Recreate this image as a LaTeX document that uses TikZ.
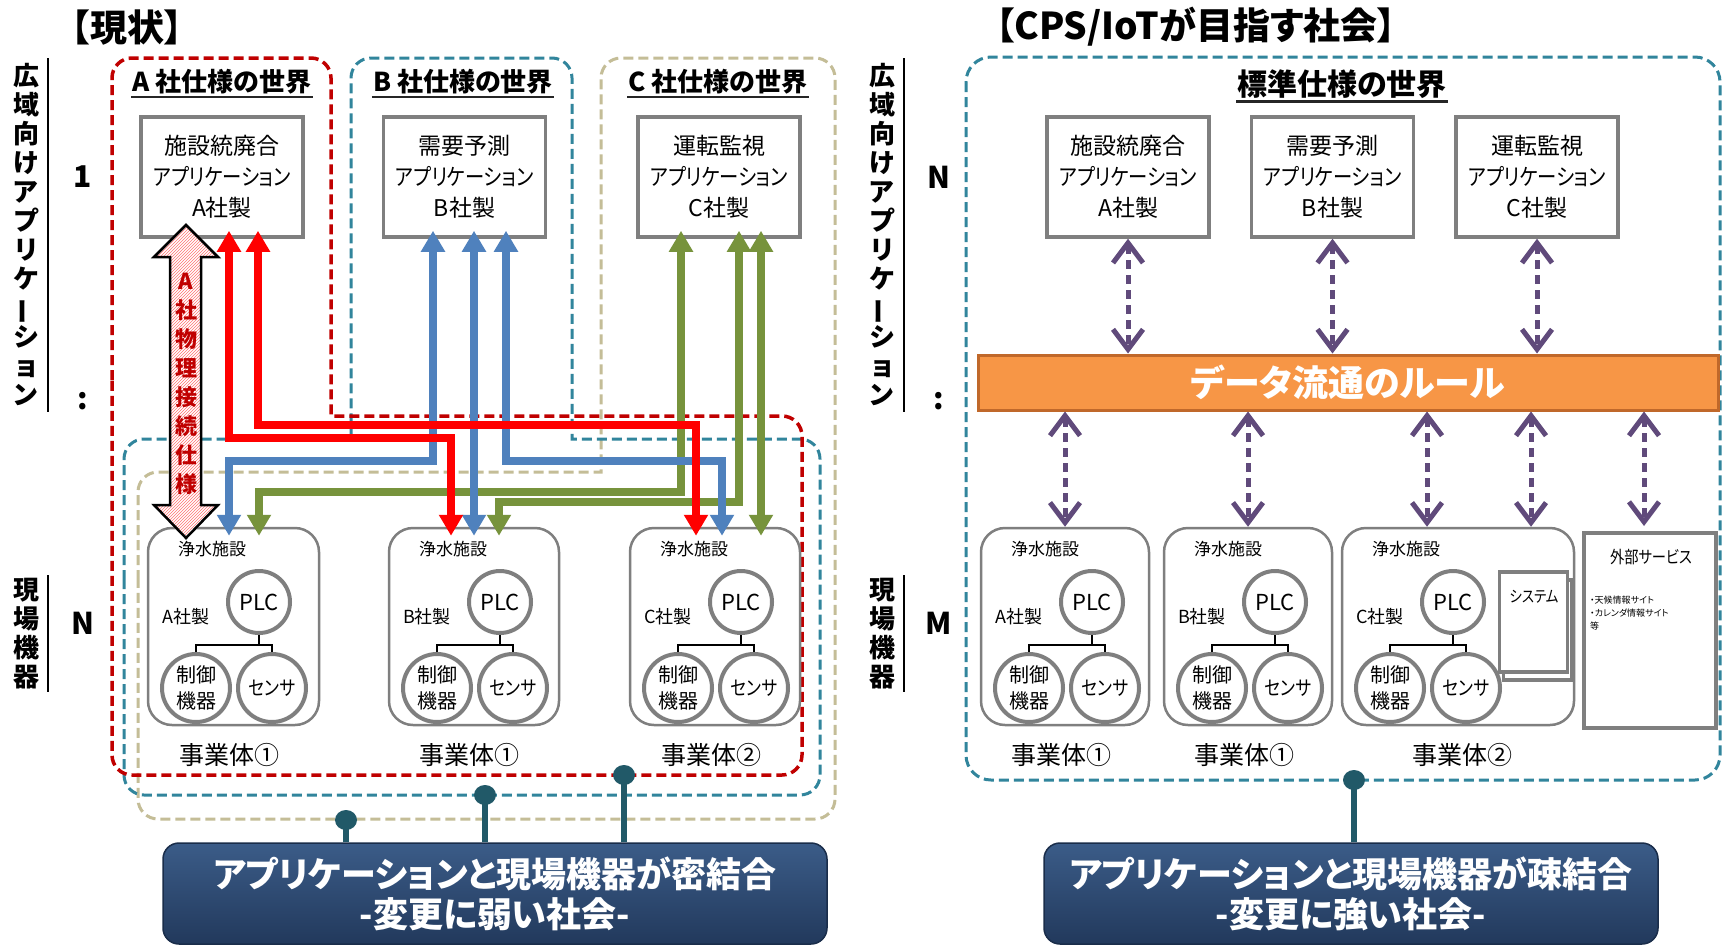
\documentclass[tikz,border=0pt]{standalone}
\usepackage{fontspec}
\setmainfont{Noto Sans CJK JP}[RawFeature=+palt]
\usepackage{graphicx}
\usetikzlibrary{arrows.meta,patterns,calc}
\definecolor{dred}{HTML}{C00000}
\definecolor{dteal}{HTML}{31859C}
\definecolor{dtan}{HTML}{C4BD97}
\definecolor{ared}{HTML}{FF0000}
\definecolor{ablue}{HTML}{4F81BD}
\definecolor{agreen}{HTML}{77933C}
\definecolor{gline}{HTML}{7F7F7F}
\definecolor{purp}{HTML}{604A7B}
\definecolor{orf}{HTML}{F79646}
\definecolor{orb}{HTML}{C0682A}
\definecolor{pinc}{HTML}{215968}
\definecolor{navyt}{HTML}{3B5C88}
\definecolor{navyb}{HTML}{22395C}
\definecolor{navyd}{HTML}{1A2D4A}
\newcommand{\vbar}{\rotatebox[origin=c]{90}{ー}}
\newcommand{\kata}[1]{\scalebox{0.84}[1]{#1}}
\tikzset{
  appbox/.style={draw=gline, line width=3.5pt, fill=white, minimum width=162pt, minimum height=120pt, align=center, inner sep=0pt, font=\fontsize{23}{31}\selectfont},
  facbox/.style={draw=gline, line width=2.5pt, rounded corners=24pt, fill=white, minimum height=197pt, inner sep=0pt},
  circ/.style={circle, draw=gline, line width=4pt, fill=white, inner sep=0pt, align=center},
  ftext/.style={inner sep=0pt, font=\fontsize{17}{20}\selectfont},
  jtext/.style={inner sep=0pt, font=\fontsize{25}{28}\selectfont},
  treeline/.style={line width=2pt, black},
  wtitle/.style={font=\bfseries\fontsize{26}{30}\selectfont, inner sep=1pt},
  stitle/.style={font=\bfseries\fontsize{30}{34}\selectfont, inner sep=1pt},
  ptitle/.style={font=\bfseries\fontsize{37}{40}\selectfont, inner sep=0pt},
  uline/.style={line width=2.5pt, black!85},
  vlabel/.style={align=center, font=\bfseries\fontsize{26}{29}\selectfont, inner sep=0pt},
  axisline/.style={line width=1.5pt, black},
  bignum/.style={font=\bfseries\fontsize{30}{30}\selectfont, inner sep=0pt},
  reddash/.style={draw=dred, line width=3.5pt, dash pattern=on 10pt off 5pt},
  tealdash/.style={draw=dteal, line width=3pt, dash pattern=on 10pt off 5pt},
  tandash/.style={draw=dtan, line width=3pt, dash pattern=on 10pt off 5pt},
  conn/.style={line width=8pt, {Triangle[length=21pt,width=23pt]}-{Triangle[length=21pt,width=23pt]}, shorten <=-8pt, shorten >=-9pt},
  redarr/.style={conn, draw=ared},
  bluearr/.style={conn, draw=ablue},
  greenarr/.style={conn, draw=agreen},
  purarr/.style={draw=purp, line width=5pt, dash pattern=on 9pt off 6pt, {Straight Barb[length=20pt,width=30pt]}-{Straight Barb[length=20pt,width=30pt]}},
  pin/.style={draw=pinc, line width=6pt},
  bbox/.style={rounded corners=16pt, draw=navyd, line width=1.5pt, top color=navyt, bottom color=navyb, text=white, align=center, font=\bfseries\fontsize{35}{40}\selectfont, inner sep=0pt},
  sysbox/.style={draw=gline, line width=3.5pt, fill=white, minimum width=68pt, minimum height=100pt, inner sep=0pt},
}
\newcommand{\facil}[4]{%
  \node[facbox, minimum width=#3pt] (#1) at ({#2+#3/2},626.5) {};
  \node[ftext] at ({#2+64},549) {浄水施設};
  \node[circ, minimum size=62pt, font=\fontsize{22}{24}\selectfont] (#1plc) at ({#2+111},602) {PLC};
  \node[ftext, font=\fontsize{18}{20}\selectfont] at ({#2+38},617) {#4社製};
  \node[circ, minimum size=68pt, font=\fontsize{20}{26}\selectfont] (#1ctl) at ({#2+48},688) {制御\\機器};
  \node[circ, minimum size=68pt, font=\fontsize{20}{24}\selectfont] (#1sen) at ({#2+124},688) {\kata{センサ}};
  \draw[treeline] (#1plc.south) -- ++(0,10) coordinate (#1t);
  \draw[treeline] (#1ctl.north) |- (#1t) -| (#1sen.north);
}
\begin{document}
\begin{tikzpicture}[x=1pt,y=-1pt]
\useasboundingbox (0,0) rectangle (1723,945);
\fill[white] (0,0) rectangle (1723,945);

% ================= LEFT =================
\node[ptitle] (tl) at (127,28) {【現状】};
\node[vlabel] (vl1) at (26,235) {広\\域\\向\\け\\ア\\プ\\リ\\ケ\\\vbar\\シ\\ョ\\ン};
\draw[axisline] (48,58) -- (48,412);
\node[vlabel] (vl2) at (26,634) {現\\場\\機\\器};
\draw[axisline] (48,575) -- (48,692);
\node[bignum] (n1) at (83,177) {1};
\node[bignum] (n2) at (83,401) {:};
\node[bignum] (n3) at (83,623) {N};

% dashed worlds
\draw[tandash] (138,600) [rounded corners=20pt] -- (138,472) [sharp corners] -- (601,472) [rounded corners=20pt] -- (601,58) -- (835,58) -- (835,819) -- (138,819) -- cycle;
\draw[tealdash] (124,600) [rounded corners=20pt] -- (124,439) [sharp corners] -- (351,439) [rounded corners=20pt] -- (351,58) -- (572,58) [sharp corners] -- (572,439) [rounded corners=20pt] -- (820,439) -- (820,795) -- (124,795) -- cycle;
\draw[reddash] (112,400) [rounded corners=20pt] -- (112,58) -- (331,58) [sharp corners] -- (331,416) [rounded corners=20pt] -- (802,416) -- (802,775) -- (112,775) -- cycle;

\node[wtitle] (tA) at (222,82) {A 社仕様の世界};
\draw[uline] ([yshift=-5pt]tA.base west) -- ([yshift=-5pt]tA.base east);
\node[wtitle] (tB) at (463,82) {B 社仕様の世界};
\draw[uline] ([yshift=-5pt]tB.base west) -- ([yshift=-5pt]tB.base east);
\node[wtitle] (tC) at (718,82) {C 社仕様の世界};
\draw[uline] ([yshift=-5pt]tC.base west) -- ([yshift=-5pt]tC.base east);

\node[appbox] (appA) at (222,177) {施設統廃合\\\kata{アプリケーション}\\A社製};
\node[appbox] (appB) at (464.5,177) {需要予測\\\kata{アプリケーション}\\B社製};
\node[appbox] (appC) at (719,177) {運転監視\\\kata{アプリケーション}\\C社製};

\facil{fA}{148}{171}{A}
\facil{fB}{389}{170}{B}
\facil{fC}{630}{170}{C}

% connectors
\coordinate (g1) at (681,492); \coordinate (g1b) at (259,492);
\draw[greenarr] (appC.south -| g1) -- (g1) -- (g1b) -- (fA.north -| g1b);
\coordinate (g2) at (739,502); \coordinate (g2b) at (499,502);
\draw[greenarr] (appC.south -| g2) -- (g2) -- (g2b) -- (fB.north -| g2b);
\coordinate (g3) at (761,502);
\draw[greenarr] (appC.south -| g3) -- (fC.north -| g3);
\coordinate (b1) at (433,461); \coordinate (b1b) at (229,461);
\draw[bluearr] (appB.south -| b1) -- (b1) -- (b1b) -- (fA.north -| b1b);
\coordinate (b2) at (474,461);
\draw[bluearr] (appB.south -| b2) -- (fB.north -| b2);
\coordinate (b3) at (506,461); \coordinate (b3b) at (722,461);
\draw[bluearr] (appB.south -| b3) -- (b3) -- (b3b) -- (fC.north -| b3b);
\coordinate (r1) at (229,438); \coordinate (r1b) at (451,438);
\draw[redarr] (appA.south -| r1) -- (r1) -- (r1b) -- (fB.north -| r1b);
\coordinate (r2) at (258,425); \coordinate (r2b) at (696,425);
\draw[redarr] (appA.south -| r2) -- (r2) -- (r2b) -- (fC.north -| r2b);

% hollow physical-connection arrow
\draw[line width=2.5pt, black, preaction={fill=white}, pattern=north east lines, pattern color=red!55]
  (186,225) -- (218,257) -- (201,257) -- (201,505) -- (218,505) -- (186,538) -- (154,505) -- (170,505) -- (170,257) -- (154,257) -- cycle;
\node[font=\bfseries\fontsize{22}{29}\selectfont, text=dred, align=center, inner sep=0pt] (phys) at (186,384) {A\\社\\物\\理\\接\\続\\仕\\様};

\node[jtext] (jA) at (229,755) {事業体①};
\node[jtext] (jB) at (469,755) {事業体①};
\node[jtext] (jC) at (711,755) {事業体②};

\node[bbox, minimum width=664pt, minimum height=101pt] (bl) at (495,893.5) {アプリケーションと現場機器が密結合\\-変更に弱い社会-};
\coordinate (p1) at (346,820); \coordinate (p2) at (485,795); \coordinate (p3) at (624,775);
\foreach \p in {p1,p2,p3} {
  \draw[pin] (bl.north -| \p) -- (\p);
  \fill[pinc] (\p) ellipse (11pt and 10pt);
}

% ================= RIGHT =================
\node[ptitle] (tr) at (1196,27) {【CPS/IoTが目指す社会】};
\node[vlabel] (vr1) at (882,235) {広\\域\\向\\け\\ア\\プ\\リ\\ケ\\\vbar\\シ\\ョ\\ン};
\draw[axisline] (904,58) -- (904,412);
\node[vlabel] (vr2) at (882,634) {現\\場\\機\\器};
\draw[axisline] (904,575) -- (904,692);
\node[bignum] (m1) at (939,177) {N};
\node[bignum] (m2) at (939,401) {:};
\node[bignum] (m3) at (939,623) {M};

\draw[tealdash, rounded corners=25pt] (966,57) rectangle (1720,780);
\node[stitle] (tS) at (1342,84) {標準仕様の世界};
\draw[uline] ([yshift=-6pt]tS.base west) -- ([yshift=-6pt]tS.base east);

\node[appbox] (rappA) at (1128,177) {施設統廃合\\\kata{アプリケーション}\\A社製};
\node[appbox] (rappB) at (1332.5,177) {需要予測\\\kata{アプリケーション}\\B社製};
\node[appbox] (rappC) at (1537,177) {運転監視\\\kata{アプリケーション}\\C社製};

\node[draw=orb, fill=orf, line width=3pt, minimum width=740pt, minimum height=55pt, inner sep=0pt, text=white, font=\bfseries\fontsize{36}{40}\selectfont] (bar) at (1348,382.5) {データ流通のルール};

\facil{gA}{981}{168}{A}
\facil{gB}{1164}{168}{B}
\facil{gC}{1342}{232}{C}

\node[sysbox] (sysb) at (1537.5,630) {};
\node[sysbox] (sys) at (1533.5,622) {};
\node[ftext, font=\fontsize{16}{18}\selectfont] (syst) at (1534,597) {\kata{システム}};

\node[draw=gline, line width=4pt, fill=white, minimum width=132pt, minimum height=195pt, inner sep=0pt] (ext) at (1650,630.5) {};
\node[ftext] (extt) at (1651,557) {\kata{外部サービス}};
\node[font=\fontsize{9}{13}\selectfont, align=left, anchor=north west, inner sep=0pt] (extl) at (1590,596) {・天候情報サイト\\・カレンダ情報サイト\\等};

\draw[purarr] (rappA.south) -- (rappA.south |- bar.north);
\draw[purarr] (rappB.south) -- (rappB.south |- bar.north);
\draw[purarr] (rappC.south) -- (rappC.south |- bar.north);
\coordinate (d3) at (1427,0); \coordinate (d4) at (1531,0); \coordinate (d5) at (1644,0);
\draw[purarr] (bar.south -| gA.north) -- (gA.north);
\draw[purarr] (bar.south -| gB.north) -- (gB.north);
\draw[purarr] (bar.south -| d3) -- (gC.north -| d3);
\draw[purarr] (bar.south -| d4) -- (gC.north -| d4);
\draw[purarr] (bar.south -| d5) -- ([yshift=5pt]ext.north -| d5);

\node[jtext] (kA) at (1061,755) {事業体①};
\node[jtext] (kB) at (1244,755) {事業体①};
\node[jtext] (kC) at (1462,755) {事業体②};

\node[bbox, minimum width=614pt, minimum height=101pt] (br) at (1351,893.5) {アプリケーションと現場機器が疎結合\\-変更に強い社会-};
\coordinate (p4) at (1354,780);
\draw[pin] (br.north -| p4) -- (p4);
\fill[pinc] (p4) ellipse (11pt and 10pt);
\end{tikzpicture}
\end{document}
